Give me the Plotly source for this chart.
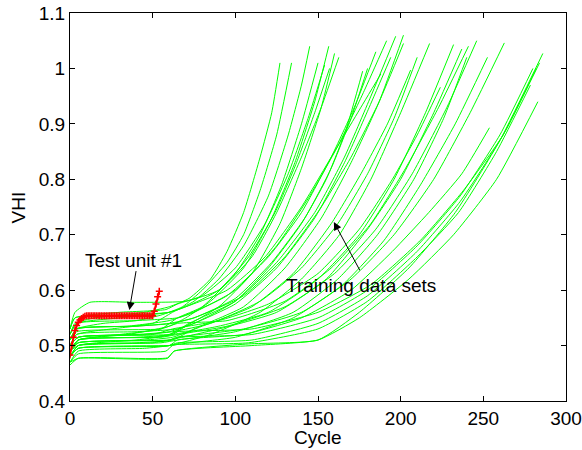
import plotly.graph_objects as go

# ---- training data sets (cycle, VHI) ----
train_cycles = [
    [0, 3, 15, 30, 45, 60, 72, 85, 95, 105, 115, 122, 127],
    [0, 4, 20, 40, 55, 68, 80, 95, 105, 115, 125, 134],
    [0, 4, 25, 50, 62, 75, 90, 105, 120, 132, 140, 145],
    [0, 5, 30, 55, 65, 80, 100, 115, 128, 140, 150],
    [0, 3, 30, 58, 65, 80, 100, 118, 132, 144, 154],
    [0, 5, 35, 60, 70, 85, 105, 122, 136, 148, 156.5],
    [0, 5, 40, 62, 70, 90, 110, 127, 140, 152, 160],
    [0, 3, 12, 40, 70, 90, 110, 125, 140, 152, 162.6],
    [0, 5, 40, 60, 75, 100, 120, 140, 155, 167, 177],
    [0, 4, 35, 60, 70, 95, 120, 140, 158, 172, 185],
    [0, 4, 40, 65, 75, 100, 125, 145, 162, 178, 191.5],
    [0, 5, 40, 60, 72, 100, 125, 148, 166, 182, 197],
    [0, 5, 40, 62, 75, 105, 130, 152, 170, 187, 201.7],
    [0, 4, 40, 60, 75, 105, 130, 152, 170, 187, 201.7],
    [0, 5, 45, 62, 80, 110, 135, 158, 176, 192, 206],
    [0, 5, 45, 60, 85, 115, 140, 163, 182, 200, 217.5],
    [0, 3, 35, 60, 70, 95, 118, 140, 158, 174, 188],
    [0, 4, 40, 65, 75, 100, 125, 148, 166, 181, 194],
    [0, 5, 50, 62, 90, 120, 150, 175, 196, 215, 232],
    [0, 5, 50, 60, 90, 125, 155, 180, 200, 220, 237],
    [0, 4, 55, 65, 95, 130, 158, 182, 203, 223, 241],
    [0, 5, 55, 65, 95, 130, 160, 185, 207, 228, 246],
    [0, 5, 58, 62, 100, 135, 165, 190, 212, 233, 252.5],
    [0, 5, 60, 65, 105, 140, 170, 195, 217, 237, 253.7],
    [0, 5, 60, 65, 105, 140, 170, 196, 220, 242, 262.7],
    [0, 5, 60, 65, 108, 150, 180, 210, 235, 258, 278.5],
    [0, 5, 59, 63, 110, 150, 175, 205, 232, 258, 283],
    [0, 5, 60, 65, 110, 150, 180, 210, 236, 262, 284],
    [0, 5, 59, 63, 108, 150, 175, 205, 233, 260, 286],
    [0, 5, 60, 65, 110, 150, 180, 210, 236, 260, 280],
    [0, 5, 50, 62, 90, 120, 150, 175, 195, 210, 224],
    [0, 5, 60, 65, 110, 150, 182, 212, 238, 262, 282],
    [0, 4, 40, 62, 75, 100, 122, 142, 158, 170, 180],
    [0, 5, 45, 62, 85, 115, 140, 162, 180, 196, 210],
    [0, 5, 55, 65, 100, 135, 162, 186, 208, 226, 240],
    [0, 4, 30, 60, 70, 90, 108, 124, 137, 148, 157],
]
train_vhi = [
    [0.52, 0.54, 0.55, 0.555, 0.56, 0.57, 0.585, 0.62, 0.67, 0.74, 0.84, 0.92, 1.01],
    [0.51, 0.53, 0.54, 0.545, 0.555, 0.57, 0.60, 0.65, 0.70, 0.78, 0.88, 1.01],
    [0.50, 0.52, 0.53, 0.54, 0.56, 0.58, 0.62, 0.68, 0.77, 0.88, 0.97, 1.04],
    [0.49, 0.51, 0.52, 0.53, 0.55, 0.57, 0.63, 0.70, 0.79, 0.90, 1.01],
    [0.53, 0.55, 0.56, 0.565, 0.575, 0.59, 0.64, 0.72, 0.81, 0.91, 1.006],
    [0.49, 0.51, 0.52, 0.535, 0.55, 0.58, 0.64, 0.73, 0.83, 0.94, 1.04],
    [0.48, 0.50, 0.51, 0.52, 0.535, 0.57, 0.63, 0.72, 0.82, 0.93, 1.027],
    [0.53, 0.56, 0.578, 0.578, 0.58, 0.60, 0.66, 0.74, 0.84, 0.93, 1.02],
    [0.50, 0.515, 0.52, 0.525, 0.54, 0.58, 0.64, 0.72, 0.80, 0.89, 0.995],
    [0.51, 0.53, 0.535, 0.545, 0.555, 0.59, 0.66, 0.74, 0.84, 0.93, 1.03],
    [0.52, 0.54, 0.545, 0.55, 0.56, 0.60, 0.68, 0.77, 0.86, 0.96, 1.05],
    [0.49, 0.51, 0.515, 0.52, 0.54, 0.58, 0.65, 0.74, 0.84, 0.95, 1.058],
    [0.48, 0.50, 0.505, 0.51, 0.53, 0.57, 0.64, 0.73, 0.83, 0.94, 1.06],
    [0.51, 0.53, 0.535, 0.54, 0.55, 0.59, 0.66, 0.75, 0.84, 0.94, 1.045],
    [0.49, 0.505, 0.51, 0.515, 0.535, 0.57, 0.63, 0.72, 0.81, 0.90, 0.997],
    [0.47, 0.49, 0.495, 0.50, 0.52, 0.56, 0.62, 0.70, 0.80, 0.92, 1.045],
    [0.53, 0.55, 0.555, 0.56, 0.57, 0.60, 0.66, 0.75, 0.84, 0.92, 0.99],
    [0.50, 0.52, 0.525, 0.53, 0.54, 0.575, 0.64, 0.73, 0.83, 0.93, 1.02],
    [0.49, 0.51, 0.515, 0.52, 0.535, 0.56, 0.62, 0.70, 0.80, 0.92, 1.043],
    [0.48, 0.50, 0.505, 0.51, 0.53, 0.56, 0.62, 0.71, 0.80, 0.92, 1.035],
    [0.51, 0.525, 0.53, 0.54, 0.545, 0.58, 0.64, 0.72, 0.82, 0.93, 1.04],
    [0.49, 0.51, 0.515, 0.52, 0.535, 0.57, 0.63, 0.71, 0.81, 0.93, 1.05],
    [0.47, 0.485, 0.49, 0.50, 0.515, 0.55, 0.61, 0.69, 0.79, 0.90, 1.02],
    [0.48, 0.495, 0.50, 0.51, 0.52, 0.55, 0.60, 0.67, 0.74, 0.81, 0.893],
    [0.49, 0.505, 0.51, 0.515, 0.53, 0.56, 0.62, 0.70, 0.80, 0.92, 1.046],
    [0.48, 0.495, 0.50, 0.502, 0.505, 0.53, 0.58, 0.66, 0.74, 0.85, 0.97],
    [0.47, 0.477, 0.477, 0.49, 0.50, 0.51, 0.55, 0.62, 0.70, 0.80, 0.94],
    [0.48, 0.495, 0.50, 0.505, 0.51, 0.54, 0.59, 0.67, 0.76, 0.88, 1.01],
    [0.465, 0.477, 0.478, 0.49, 0.503, 0.51, 0.56, 0.64, 0.74, 0.87, 1.027],
    [0.49, 0.505, 0.51, 0.515, 0.52, 0.55, 0.60, 0.68, 0.77, 0.88, 1.00],
    [0.50, 0.515, 0.52, 0.53, 0.545, 0.575, 0.63, 0.71, 0.80, 0.88, 0.966],
    [0.50, 0.515, 0.52, 0.525, 0.53, 0.56, 0.61, 0.69, 0.78, 0.88, 1.00],
    [0.51, 0.53, 0.535, 0.54, 0.55, 0.585, 0.65, 0.73, 0.82, 0.91, 1.00],
    [0.50, 0.515, 0.52, 0.525, 0.54, 0.58, 0.64, 0.72, 0.81, 0.91, 1.02],
    [0.49, 0.50, 0.505, 0.51, 0.525, 0.56, 0.62, 0.70, 0.80, 0.91, 1.02],
    [0.52, 0.54, 0.55, 0.56, 0.57, 0.60, 0.66, 0.74, 0.83, 0.92, 1.00],
]

# ---- test unit #1 ----
test_cycles = [0, 1, 2, 3, 4, 5, 6, 7, 8, 9, 10, 11, 12, 13, 14, 15, 16, 17, 18, 19,
               20, 21, 22, 23, 24, 25, 26, 27, 28, 29, 30, 31, 32, 33, 34, 35, 36, 37,
               38, 39, 40, 41, 42, 43, 44, 45, 46, 47, 48, 49, 50, 51, 52, 53, 54]
test_vhi = [0.483, 0.500, 0.515, 0.527, 0.536, 0.542, 0.546, 0.549, 0.551, 0.553, 0.554,
            0.554, 0.554, 0.554, 0.554, 0.554, 0.554, 0.554, 0.554, 0.554, 0.554,
            0.554, 0.554, 0.554, 0.554, 0.554, 0.554, 0.554, 0.554, 0.554, 0.554,
            0.554, 0.554, 0.554, 0.554, 0.554, 0.554, 0.554, 0.554, 0.554, 0.554,
            0.554, 0.554, 0.554, 0.554, 0.554, 0.554, 0.554, 0.554, 0.554, 0.554,
            0.562, 0.575, 0.588, 0.598]

x_ticks = [0, 50, 100, 150, 200, 250, 300]
y_ticks = [0.4, 0.5, 0.6, 0.7, 0.8, 0.9, 1.0, 1.1]
y_tick_text = ["0.4", "0.5", "0.6", "0.7", "0.8", "0.9", "1", "1.1"]

FONT = "Liberation Sans, Arial, sans-serif"
FS = 19

fig = go.Figure()
for cx, cy in zip(train_cycles, train_vhi):
    fig.add_trace(go.Scatter(x=cx, y=cy, mode="lines",
                             line=dict(color="#00ff00", width=1, shape="spline", smoothing=0.5),
                             showlegend=False, hoverinfo="skip"))

fig.add_trace(go.Scatter(x=test_cycles, y=test_vhi, mode="lines+markers",
                         line=dict(color="#ff0000", width=2),
                         marker=dict(symbol="cross-thin-open", size=5, color="#ff0000",
                                     line=dict(color="#ff0000", width=1.5)),
                         showlegend=False, hoverinfo="skip"))

axis_common = dict(showline=True, linecolor="black", linewidth=1, mirror="ticks",
                   ticks="inside", ticklen=5, tickcolor="black", showgrid=False,
                   zeroline=False, automargin=False, ticklabeloverflow="allow",
                   tickfont=dict(family=FONT, size=FS, color="black"))

fig.update_xaxes(range=[0, 300], tickvals=x_ticks, **axis_common)
fig.update_yaxes(range=[0.4, 1.1], tickvals=y_ticks, ticktext=y_tick_text, **axis_common)

ann_font = dict(family=FONT, size=FS, color="black")
fig.add_annotation(x=38.6, y=0.654, text="Test unit #1", showarrow=False, font=ann_font,
                   xanchor="center", yanchor="middle")
fig.add_annotation(x=176.1, y=0.609, text="Training data sets", showarrow=False, font=ann_font,
                   xanchor="center", yanchor="middle")
fig.add_annotation(x=35.9, y=0.564, ax=40.1, ay=0.637, axref="x", ayref="y",
                   text="", showarrow=True, arrowhead=2, arrowsize=1.6, arrowwidth=1,
                   arrowcolor="black")
fig.add_annotation(x=159.6, y=0.723, ax=175.8, ay=0.633, axref="x", ayref="y",
                   text="", showarrow=True, arrowhead=2, arrowsize=1.6, arrowwidth=1,
                   arrowcolor="black")
fig.add_annotation(x=0.5, y=-0.095, xref="paper", yref="paper", text="Cycle",
                   showarrow=False, font=ann_font, xanchor="center", yanchor="middle")
fig.add_annotation(x=-0.104, y=0.5, xref="paper", yref="paper", text="VHI", textangle=-90,
                   showarrow=False, font=ann_font, xanchor="center", yanchor="middle")

fig.update_layout(width=582, height=450, plot_bgcolor="white", paper_bgcolor="white",
                  margin=dict(l=70, r=16, t=13, b=49), hovermode=False)

fig.write_html("out.html", config={"displayModeBar": False},
               post_script="document.body.style.margin='0';")
